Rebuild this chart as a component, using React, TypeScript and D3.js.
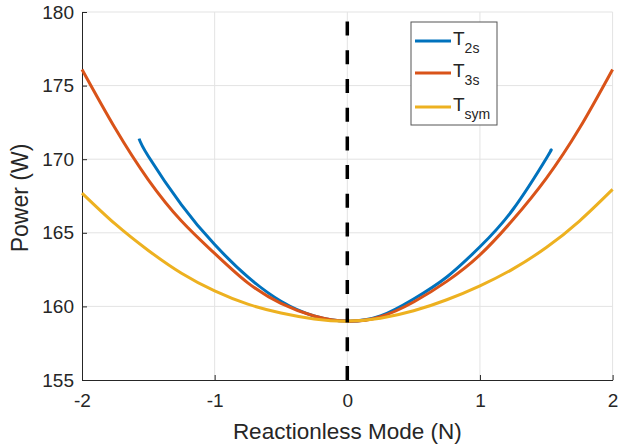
import { axisBottom, axisLeft, curveNatural, line, scaleLinear, select } from "d3";
import React, { useEffect, useRef } from "react";

// values
const xT2s = [-1.57, -1.5, -1.25, -1, -0.75, -0.5, -0.25, 0, 0.25, 0.5, 0.75, 1, 1.25, 1.5, 1.53];
const yT2s = [171.4, 170.2, 166.9, 164.2, 162.0, 160.35, 159.35, 159.0, 159.35, 160.5, 162.0, 164.05, 166.6, 170.05, 170.55];

const xT3s = [-2, -1.75, -1.5, -1.25, -1, -0.75, -0.5, -0.25, 0, 0.25, 0.5, 0.75, 1, 1.25, 1.5, 1.75, 2];
const yT3s = [176.1, 172.1, 168.6, 165.8, 163.6, 161.6, 160.2, 159.35, 159.0, 159.3, 160.3, 161.7, 163.5, 165.9, 168.7, 172.1, 176.1];

const xTsym = [-2, -1.75, -1.5, -1.25, -1, -0.75, -0.5, -0.25, 0, 0.25, 0.5, 0.75, 1, 1.25, 1.5, 1.75, 2];
const yTsym = [167.7, 165.6, 163.8, 162.25, 161.05, 160.15, 159.55, 159.15, 159.0, 159.2, 159.7, 160.45, 161.4, 162.55, 164.0, 165.8, 167.95];

const xTicks = [-2, -1, 0, 1, 2];
const yTicks = [155, 160, 165, 170, 175, 180];

const seriesNames = ["2s", "3s", "sym"];
const colors = ["#0072BD", "#D95319", "#EDB120"];

const width = 618;
const height = 448;
const margin = { top: 12, right: 5.4, bottom: 68, left: 82 };
const font = "'Liberation Sans', Arial, Helvetica, sans-serif";
const ink = "#262626";

export default function App() {
  const ref = useRef<SVGSVGElement>(null);

  useEffect(() => {
    const svg = select(ref.current);
    svg.selectAll("*").remove();

    const x = scaleLinear().domain([-2, 2]).range([margin.left, width - margin.right]);
    const y = scaleLinear().domain([155, 180]).range([height - margin.bottom, margin.top]);

    // grid
    const grid = svg.append("g").attr("stroke", "#e3e3e3").attr("stroke-width", 1);
    grid
      .selectAll("line.gx")
      .data(xTicks.slice(1))
      .join("line")
      .attr("x1", (d) => x(d))
      .attr("x2", (d) => x(d))
      .attr("y1", y(155))
      .attr("y2", y(180));
    grid
      .selectAll("line.gy")
      .data(yTicks.slice(1))
      .join("line")
      .attr("x1", x(-2))
      .attr("x2", x(2))
      .attr("y1", (d) => y(d))
      .attr("y2", (d) => y(d));

    // axes
    const xAxis = (g) =>
      g
        .attr("transform", `translate(0,${y(155)})`)
        .call(axisBottom(x).tickValues(xTicks).tickSize(-5).tickPadding(14).tickSizeOuter(0).tickFormat((d) => `${d}`))
        .call((g) => g.selectAll("text").attr("font-size", 19).attr("fill", ink).attr("font-family", font));
    const yAxis = (g) =>
      g
        .attr("transform", `translate(${x(-2)},0)`)
        .call(axisLeft(y).tickValues(yTicks).tickSize(-5).tickPadding(8).tickSizeOuter(0))
        .call((g) => g.selectAll("text").attr("font-size", 19).attr("fill", ink).attr("font-family", font));

    svg.append("g").call(xAxis).call((g) => g.selectAll("line,path").attr("stroke", ink));
    svg.append("g").call(yAxis).call((g) => g.selectAll("line,path").attr("stroke", ink));

    // curves
    const xs = [xT2s, xT3s, xTsym];
    const ys = [yT2s, yT3s, yTsym];
    xs.forEach((xv, i) => {
      const pts = xv.map((v, j) => [x(v), y(ys[i][j])] as [number, number]);
      svg
        .append("path")
        .attr("d", line().curve(curveNatural)(pts))
        .attr("fill", "none")
        .attr("stroke", colors[i])
        .attr("stroke-width", 3);
    });

    // x = 0 dashed marker, drawn bottom up
    svg
      .append("line")
      .attr("x1", x(0))
      .attr("x2", x(0))
      .attr("y1", y(155))
      .attr("y2", y(180))
      .attr("stroke", "#000")
      .attr("stroke-width", 3.5)
      .attr("stroke-dasharray", "14 14.7");

    // labels
    svg
      .append("text")
      .attr("x", x(0))
      .attr("y", 439)
      .attr("text-anchor", "middle")
      .attr("font-family", font)
      .attr("font-size", 22.5)
      .attr("fill", ink)
      .text("Reactionless Mode (N)");
    svg
      .append("text")
      .attr("transform", `translate(28,${(y(155) + y(180)) / 2 + 2}) rotate(-90)`)
      .attr("text-anchor", "middle")
      .attr("font-family", font)
      .attr("font-size", 23)
      .attr("fill", ink)
      .text("Power (W)");

    // legend
    const lg = svg.append("g");
    lg.append("rect")
      .attr("x", 411)
      .attr("y", 22)
      .attr("width", 86)
      .attr("height", 103)
      .attr("fill", "#fff")
      .attr("stroke", "#555")
      .attr("stroke-width", 1);
    const rows = [41, 73, 107];
    seriesNames.forEach((name, i) => {
      lg.append("line")
        .attr("x1", 415)
        .attr("x2", 451)
        .attr("y1", rows[i])
        .attr("y2", rows[i])
        .attr("stroke", colors[i])
        .attr("stroke-width", 3);
      const t = lg
        .append("text")
        .attr("x", 453)
        .attr("y", rows[i] + 3.5)
        .attr("font-family", font)
        .attr("font-size", 19)
        .attr("fill", ink);
      t.append("tspan").text("T");
      t.append("tspan").attr("font-size", 14).attr("dy", 8.5).text(name);
    });
  }, []);

  return (
    <svg
      ref={ref}
      width={width}
      height={height}
      style={{ position: "absolute", left: 0, top: 0, background: "#fff" }}
    ></svg>
  );
}
